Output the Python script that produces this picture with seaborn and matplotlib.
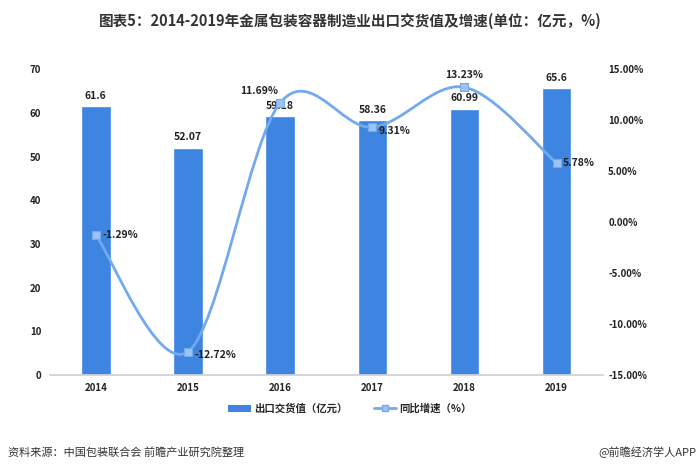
import matplotlib
matplotlib.use("Agg")
import matplotlib.pyplot as plt
import seaborn as sns
import numpy as np
import pandas as pd
from matplotlib.path import Path
from matplotlib.patches import PathPatch
from matplotlib.lines import Line2D
from matplotlib.patches import Patch

years = ["2014", "2015", "2016", "2017", "2018", "2019"]
export_values = [61.6, 52.07, 59.18, 58.36, 60.99, 65.6]
growth_rates = [-1.29, -12.72, 11.69, 9.31, 13.23, 5.78]
left_ticks = [0, 10, 20, 30, 40, 50, 60, 70]
right_ticks = [-15, -10, -5, 0, 5, 10, 15]

sns.set_theme(style="white")
plt.rcParams['font.family'] = ['Noto Sans CJK SC', 'DejaVu Sans']

BAR = "#3d85e0"
LINE = "#72a9ef"

fig = plt.figure(figsize=(7, 4.74), dpi=100)
ax = fig.add_axes([0.071, 0.209, 0.79, 0.645])
df = pd.DataFrame({"year": years, "value": export_values, "rate": growth_rates})
sns.barplot(data=df, x="year", y="value", color=BAR, width=0.32, ax=ax, saturation=1)
ax.set_ylim(0, 70)
ax.set_xlim(-0.5, 5.5)
ax.set_yticks(left_ticks)
ax.set_yticklabels([str(t) for t in left_ticks], fontsize=7, fontweight='bold', color='#222222')
ax.set_xticks(range(len(years)))
ax.set_xticklabels(years, fontsize=7, fontweight='bold', color='#222222')
ax.set_xlabel(""); ax.set_ylabel("")
for s in ["top", "left", "right"]:
    ax.spines[s].set_visible(False)
ax.spines["bottom"].set_color("#d0d0d0")
ax.tick_params(axis='both', length=0, pad=6)
for i, v in enumerate(export_values):
    ax.text(i, v + 1.2, f"{v:g}", ha='center', va='bottom', fontsize=7.5, fontweight='bold', color='#222222')

ax2 = ax.twinx()
ax2.set_ylim(-15, 15)
ax2.set_yticks(right_ticks)
ax2.set_yticklabels([f"{t:.2f}%" for t in right_ticks], fontsize=7, fontweight='bold', color='#222222')
for s in ["top", "left", "right", "bottom"]:
    ax2.spines[s].set_visible(False)
ax2.tick_params(axis='y', length=0, pad=4)

# smooth curve through points (Catmull-Rom as cubic Bezier segments)
xs = np.arange(len(years), dtype=float)
ys = np.array(growth_rates, dtype=float)
verts = [(xs[0], ys[0])]
codes = [Path.MOVETO]
n = len(xs)
for i in range(n - 1):
    p0 = (xs[max(i - 1, 0)], ys[max(i - 1, 0)])
    p1 = (xs[i], ys[i]); p2 = (xs[i + 1], ys[i + 1])
    p3 = (xs[min(i + 2, n - 1)], ys[min(i + 2, n - 1)])
    c1 = (p1[0] + (p2[0] - p0[0]) / 6, p1[1] + (p2[1] - p0[1]) / 6)
    c2 = (p2[0] - (p3[0] - p1[0]) / 6, p2[1] - (p3[1] - p1[1]) / 6)
    verts += [c1, c2, p2]
    codes += [Path.CURVE4] * 3
ax2.add_patch(PathPatch(Path(verts, codes), facecolor='none', edgecolor=LINE, lw=2))
sns.scatterplot(data=df, x=np.arange(len(years)), y="rate", ax=ax2, color="#9cc3f4", s=26, marker='s',
                edgecolor=LINE, linewidth=0.8, zorder=5, legend=False)
ax2.set_xlabel(""); ax2.set_ylabel("")

offsets = {0: (0.07, 0, 'left', 'center'),
           1: (0.07, -0.3, 'left', 'center'),
           2: (-0.02, 0.7, 'right', 'bottom'),
           3: (0.07, -0.4, 'left', 'center'),
           4: (0.0, 0.7, 'center', 'bottom'),
           5: (0.07, 0, 'left', 'center')}
for i, r in enumerate(growth_rates):
    dx, dy, ha, va = offsets[i]
    ax2.text(i + dx, r + dy, f"{r:.2f}%", ha=ha, va=va, fontsize=7.5, fontweight='bold', color='#222222')

fig.text(0.5, 0.955, "图表5：2014-2019年金属包装容器制造业出口交货值及增速(单位：亿元，%)",
         ha='center', va='center', fontsize=10.5, fontweight='bold', color='#333333')

handles = [Patch(facecolor=BAR, edgecolor='none'),
           Line2D([0], [0], color=LINE, lw=2, marker='s', markersize=4, markerfacecolor="#9cc3f4")]
fig.legend(handles, ["出口交货值（亿元）", "同比增速（%）"], loc='center', bbox_to_anchor=(0.5, 0.138),
           ncol=2, frameon=False, prop={'size': 7.5, 'weight': 'bold'}, handlelength=2.2, columnspacing=2.5,
           handletextpad=0.3)

fig.text(0.012, 0.045, "资料来源：中国包装联合会 前瞻产业研究院整理", ha='left', va='center', fontsize=8, color='#333333')
fig.text(0.995, 0.045, "@前瞻经济学人APP", ha='right', va='center', fontsize=8, color='#333333')

fig.savefig("out.png", dpi=100)
